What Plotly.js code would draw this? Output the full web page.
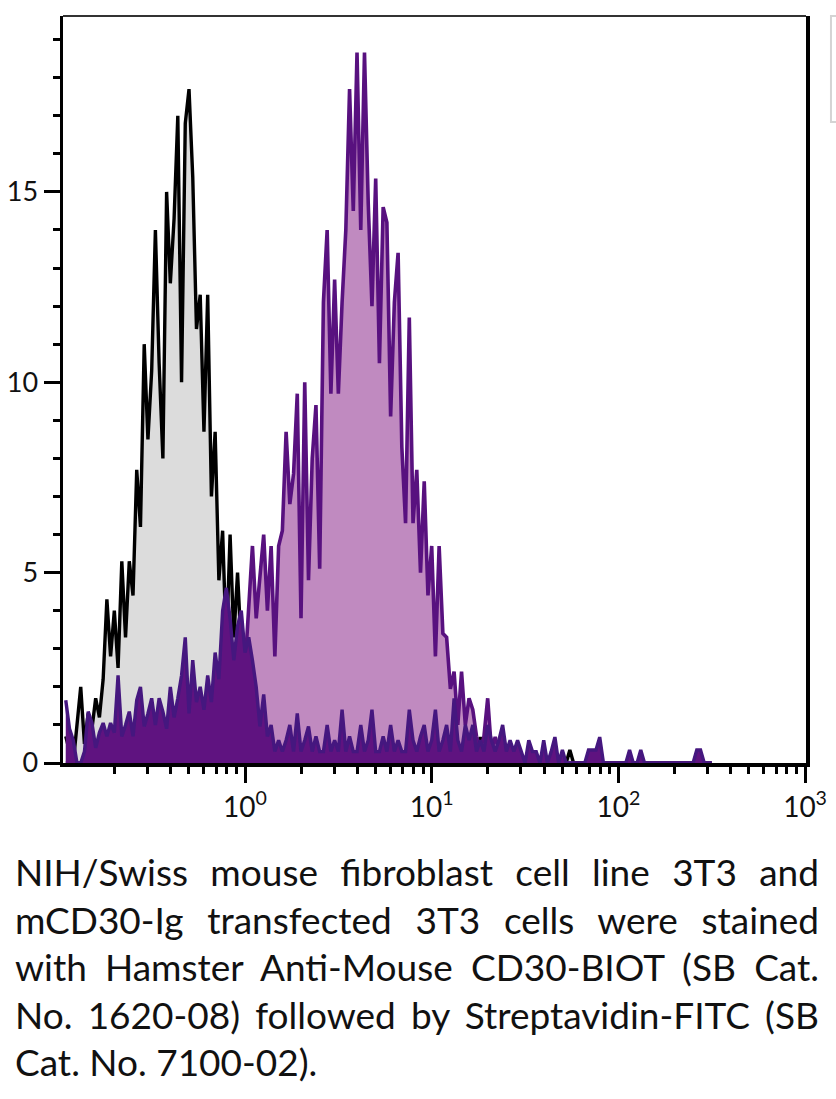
<!DOCTYPE html>
<html>
<head>
<meta charset="utf-8">
<script src="https://cdn.plot.ly/plotly-3.0.1.min.js"></script>
<style>
html,body{margin:0;padding:0;background:#fff;width:836px;height:1099px;overflow:hidden;}
#chart{position:absolute;left:0;top:0;width:836px;height:850px;}
#caption{position:absolute;left:15px;top:848px;width:804px;font-family:"Lato",sans-serif;font-size:37px;line-height:47.5px;color:#111;}
#caption .j{text-align:justify;text-align-last:justify;}
#caption .l{text-align:left;}
</style>
</head>
<body>
<div id="chart"></div>
<div id="caption">
<div class="j">NIH/Swiss mouse fibroblast cell line 3T3 and</div>
<div class="j">mCD30-Ig transfected 3T3 cells were stained</div>
<div class="j">with Hamster Anti-Mouse CD30-BIOT (SB Cat.</div>
<div class="j">No. 1620-08) followed by Streptavidin-FITC (SB</div>
<div class="l">Cat. No. 7100-02).</div>
</div>
<script>
// Fluorescence intensity (bin centres)
const intensity = [
0.1096,0.1148,0.1202,0.1259,0.1318,0.1380,0.1445,0.1514,0.1585,0.1660,
0.1738,0.1820,0.1905,0.1995,0.2089,0.2188,0.2291,0.2399,0.2512,0.2630,
0.2754,0.2884,0.3020,0.3162,0.3311,0.3467,0.3631,0.3802,0.3981,0.4169,
0.4365,0.4571,0.4786,0.5012,0.5248,0.5495,0.5754,0.6026,0.6310,0.6607,
0.6918,0.7244,0.7586,0.7943,0.8318,0.8710,0.9120,0.9550,1.000,1.047,
1.096,1.148,1.202,1.259,1.318,1.380,1.445,1.514,1.585,1.660,
1.738,1.820,1.905,1.995,2.089,2.188,2.291,2.399,2.512,2.630,
2.754,2.884,3.020,3.162,3.311,3.467,3.631,3.802,3.981,4.169,
4.365,4.571,4.786,5.012,5.248,5.495,5.754,6.026,6.310,6.607,
6.918,7.244,7.586,7.943,8.318,8.710,9.120,9.550,10.00,10.47,
10.96,11.48,12.02,12.59,13.18,13.80,14.45,15.14,15.85,16.60,
17.38,18.20,19.05,19.95,20.89,21.88,22.91,23.99,25.12,26.30,
27.54,28.84,30.20,31.62,33.11,34.67,36.31,38.02,39.81,41.69,
43.65,45.71,47.86,50.12,52.48,54.95,57.54,60.26,63.10,66.07,
69.18,72.44,75.86,79.43,83.18,87.10,91.20,95.50,100.0,104.7,
109.6,114.8,120.2,125.9,131.8,138.0,144.5,151.4,158.5,166.0,
173.8,182.0,190.5,199.5,208.9,218.8,229.1,239.9,251.2,263.0,
275.4,288.4,302.0,316.2
];

// Control 3T3 cells (black outline, grey fill)
const control3T3 = [
0.7,0.3,0,1.0,2.0,0.5,1.3,0.9,1.7,1.2,
2.2,4.3,2.8,4.0,2.5,5.3,3.3,5.3,4.4,7.7,
6.2,11.0,8.5,10.3,14.0,10.5,8.0,15.0,12.6,14.3,
17.0,10.0,16.8,17.7,15.4,11.4,12.3,8.7,12.3,7.0,
8.7,4.8,6.1,3.0,6.0,3.3,5.0,3.0,2.5,2.0,
1.4,2.2,1.0,1.7,0.7,1.0,0.3,0.7,0.3,0.7,
0.3,0.3,0.7,0,0.3,0.3,0,0.3,0.3,0,
0.7,0.3,0,0.3,0.3,0,0.3,0.7,0,0.3,
0,0.3,0.3,0,0.7,0.3,0,0.3,0,0.3,
0.3,0,0.3,0,0.7,0.3,0,0.3,0,0.3,
0.3,0,0.3,0,0.3,0,0.3,0,0.3,0.34,
0,0.68,0.34,0,0,0.34,0,0,0,0.34,
0.34,0,0,0,0.34,0,0,0,0,0,
0,0,0,0,0,0.34,0,0,0,0,
0,0,0.34,0,0,0,0,0,0,0,
0,0,0,0,0,0,0,0,0,0,
0,0,0,0,0,0,0,0,0,0,
0,0,0,0
];

// mCD30-Ig transfected 3T3 cells (purple)
const transfected3T3 = [
0,0,0,0,0,0,0,0,0,0,
0,0,0,0,0,0,0,0,0,0,
0,0,0,0,0,0,0,0,0,0,
0,0,0,0,0,0,0,0,0,0,
0,0,0,0,0,0,1.5,3.0,2.5,4.0,
5.7,3.8,5.0,6.0,4.0,5.7,2.8,5.7,6.1,8.7,
6.8,7.6,9.7,3.8,10.0,4.8,8.0,9.4,5.1,12.1,
14.0,9.7,12.7,9.7,12.1,14.0,17.7,14.5,18.66,14.0,
18.66,14.7,12.0,15.35,10.5,14.6,14.2,9.1,12.1,13.4,
8.3,6.3,11.7,6.3,7.7,5.0,7.4,4.4,5.7,2.8,
5.7,3.4,3.3,1.95,2.4,1.0,2.4,1.0,1.7,1.4,
0.7,0.34,0.7,1.7,0.34,0.68,0.34,0,0.34,0,
0.34,0,0,0,0,0,0,0,0,0,
0,0,0,0,0,0,0,0,0,0,
0,0,0,0,0,0,0,0,0,0,
0,0,0,0,0,0,0,0,0,0,
0,0,0,0,0,0,0,0,0,0,
0,0,0,0
];

// Low-level background population (dark purple)
const background3T3 = [
1.65,0.9,0.6,0,0,0.3,1.35,1.05,0.4,0.8,
1.05,0.7,1.05,0.8,2.3,0.7,1.0,1.35,0.7,1.65,
2.0,0.96,1.3,1.7,1.0,1.7,1.35,0.9,2.0,1.2,
1.7,2.3,3.3,1.3,2.7,1.6,2.0,1.4,2.3,1.6,
2.9,2.2,4.0,4.6,3.8,2.7,3.6,4.0,2.9,3.3,
2.7,2.0,0.96,1.8,0.7,1.0,0.3,0.6,0.3,0.6,
1.0,0.3,1.3,0.3,0.6,0.96,0.3,0.7,0.3,0.3,
1.0,0.3,0.6,0.3,1.4,0.3,0.7,0.3,0.3,1.0,
0.3,0.6,1.4,0.3,0.3,0.7,0.3,1.0,0.3,0.6,
0.3,0.3,1.4,0.6,0.3,0.7,1.0,0.3,0.6,1.4,
0.3,0.6,1.0,0.3,1.7,0.6,0.3,1.0,0.6,1.0,
0.3,0.6,0.3,1.0,0.6,0.3,0.6,1.0,0.3,0.6,
0.3,0.6,0.3,0,0.6,0.3,0.3,0,0.6,0,
0.3,0.68,0,0.34,0,0,0,0,0,0,
0.34,0.34,0.34,0.68,0,0,0,0,0,0,
0,0.34,0,0,0.34,0,0,0,0,0,
0,0,0,0,0,0,0,0,0,0.34,
0.34,0,0,0
];

// Axis ticks
const xTickVals = [1, 10, 100, 1000];
const xTickText = ['10<sup>0</sup>', '10<sup>1</sup>', '10<sup>2</sup>', '10<sup>3</sup>'];
const xMinorVals = [0.2,0.3,0.4,0.5,0.6,0.7,0.8,0.9,2,3,4,5,6,7,8,9,20,30,40,50,60,70,80,90,200,300,400,500,600,700,800,900];
const yTickVals = [0, 5, 10, 15];
const yTickText = ['0', '5', '10', '15'];

const traces = [
  {x: intensity, y: control3T3, type: 'scatter', mode: 'lines', fill: 'tozeroy',
   fillcolor: '#dcdcdc', line: {color: '#000000', width: 3.4}, name: 'control', hoverinfo: 'skip'},
  {x: intensity, y: transfected3T3, type: 'scatter', mode: 'lines', fill: 'tozeroy',
   fillcolor: '#c08ac0', line: {color: '#58117f', width: 3.6}, name: 'mCD30-Ig', hoverinfo: 'skip'},
  {x: intensity, y: background3T3, type: 'scatter', mode: 'lines', fill: 'tozeroy',
   fillcolor: '#5f1380', line: {color: '#45177f', width: 3.4}, name: 'background', hoverinfo: 'skip'}
];

const layout = {
  width: 836, height: 850,
  margin: {l: 63, r: 30, t: 16, b: 87, autoexpand: false},
  paper_bgcolor: 'rgba(0,0,0,0)', plot_bgcolor: '#ffffff',
  showlegend: false,
  font: {family: 'Lato, sans-serif', size: 27, color: '#111111'},
  xaxis: {
    type: 'log', range: [-0.975, 3.005], fixedrange: true,
    tickmode: 'array', tickvals: xTickVals, ticktext: xTickText,
    ticks: 'outside', ticklen: 16, tickwidth: 3, tickcolor: '#000',
    showline: true, linewidth: 4, linecolor: '#000', mirror: false,
    showgrid: false, zeroline: false,
    tickfont: {family: 'Lato, sans-serif', size: 28, color: '#111'},
    minor: {tickmode: 'array', tickvals: xMinorVals, ticks: 'outside', ticklen: 7, tickwidth: 3, tickcolor: '#000', showgrid: false}
  },
  yaxis: {
    range: [0, 19.62], fixedrange: true,
    tickmode: 'array', tickvals: yTickVals, ticktext: yTickText,
    ticks: 'outside', ticklen: 16, tickwidth: 3, tickcolor: '#000',
    showline: true, linewidth: 3.5, linecolor: '#000', mirror: true,
    showgrid: false, zeroline: false,
    tickfont: {family: 'Lato, sans-serif', size: 27, color: '#111'},
    minor: {tickmode: 'linear', tick0: 0, dtick: 1, ticks: 'outside', ticklen: 7, tickwidth: 3, tickcolor: '#000', showgrid: false}
  },
  shapes: [
    {type: 'line', xref: 'paper', yref: 'paper', x0: 0, x1: 1, y0: 1, y1: 1, line: {color: '#333333', width: 2}},
    {type: 'rect', xref: 'paper', yref: 'paper', x0: 1.0336, x1: 1.2, y0: 0.858, y1: 1.0, line: {color: '#d4d4d4', width: 2}, fillcolor: 'rgba(0,0,0,0)'}
  ]
};

Plotly.newPlot('chart', traces, layout, {staticPlot: true, displayModeBar: false});
</script>
</body>
</html>
